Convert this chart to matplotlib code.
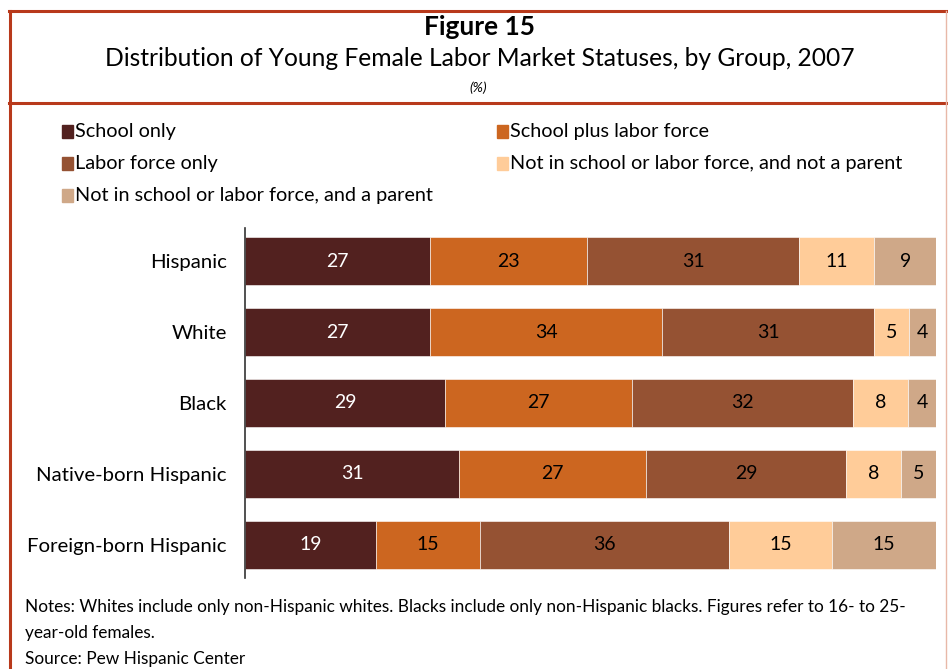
import matplotlib.pyplot as plt
from matplotlib.lines import Line2D
from matplotlib.patches import Rectangle

# Figure 15 - distribution of young female labor market statuses, 2007
groups = ["Hispanic", "White", "Black", "Native-born Hispanic", "Foreign-born Hispanic"]
statuses = ["School only", "School plus labor force", "Labor force only",
            "Not in school or labor force, and not a parent",
            "Not in school or labor force, and a parent"]
school_only = [27, 27, 29, 31, 19]
school_labor = [23, 34, 27, 27, 15]
labor_only = [31, 31, 32, 29, 36]
not_parent = [11, 5, 8, 8, 15]
parent = [9, 4, 4, 5, 15]

colors = ["#52211f", "#cc6620", "#955233", "#ffcc99", "#cfa888"]
text_colors = ["white", "black", "black", "black", "black"]
series = [school_only, school_labor, labor_only, not_parent, parent]

plt.rcParams['font.family'] = ['Lato', 'DejaVu Sans']

W, H = 948, 669
fig = plt.figure(figsize=(W / 100, H / 100), dpi=100)

def px(x, y):
    return x / W, 1 - y / H

# frame around the figure
border = "#b8391b"
for (x0, y0, x1, y1, c, lw) in [(9, 11, 948, 11, border, 2.2), (10, 11, 10, 669, border, 2.2),
                                (9, 103, 948, 103, border, 2.2), (946, 11, 946, 669, "#e8b8a8", 1.0)]:
    a, b = px(x0, y0)
    c2, d = px(x1, y1)
    fig.add_artist(Line2D([a, c2], [b, d], color=c, lw=lw, transform=fig.transFigure))

fig.text(*px(479, 27), "Figure 15", ha="center", va="center", fontsize=19, fontweight="bold")
fig.text(*px(480, 59), "Distribution of Young Female Labor Market Statuses, by Group, 2007",
         ha="center", va="center", fontsize=17.7)
fig.text(*px(478, 88), "(%)", ha="center", va="center", fontsize=10, style="italic")

# legend drawn by hand in two columns
leg_pos = [(62, 132), (497, 132), (62, 164), (497, 164), (62, 196)]
for (lx, ly), lab, col in zip(leg_pos, statuses, colors):
    a, b = px(lx, ly + 6)
    fig.add_artist(Rectangle((a, b), 11 / W, 13 / H, color=col, transform=fig.transFigure))
    fig.text(*px(lx + 13, ly), lab, ha="left", va="center", fontsize=14.3)

ax = fig.add_axes([245 / W, 1 - 578 / H, (936 - 245) / W, 350 / H])
ypos = list(range(len(groups)))
totals = [sum(row) for row in zip(*series)]
left = [0] * len(groups)
for vals, col, tc in zip(series, colors, text_colors):
    widths = [v / t * 100 for v, t in zip(vals, totals)]
    ax.barh(ypos, widths, left=left, height=0.68, color=col, edgecolor="white", linewidth=0.4)
    for i, v in enumerate(vals):
        ax.text(left[i] + widths[i] / 2, i, str(v), ha="center", va="center", fontsize=14, color=tc)
    left = [l + w for l, w in zip(left, widths)]

ax.set_xlim(0, 100)
ax.set_ylim(4.47, -0.47)
ax.set_yticks(ypos)
ax.set_yticklabels(groups, fontsize=14.7)
ax.tick_params(axis="y", length=0, pad=13)
ax.set_xticks([])
for s in ["top", "right", "bottom"]:
    ax.spines[s].set_visible(False)
ax.spines["left"].set_color("#333333")
ax.spines["left"].set_linewidth(1.2)

notes = ["Notes: Whites include only non-Hispanic whites. Blacks include only non-Hispanic blacks. Figures refer to 16- to 25-",
         "year-old females.",
         "Source: Pew Hispanic Center"]
for ny, line in zip([607, 633, 659], notes):
    fig.text(*px(25, ny), line, ha="left", va="center", fontsize=12.4)

fig.savefig("out.png", dpi=100)
